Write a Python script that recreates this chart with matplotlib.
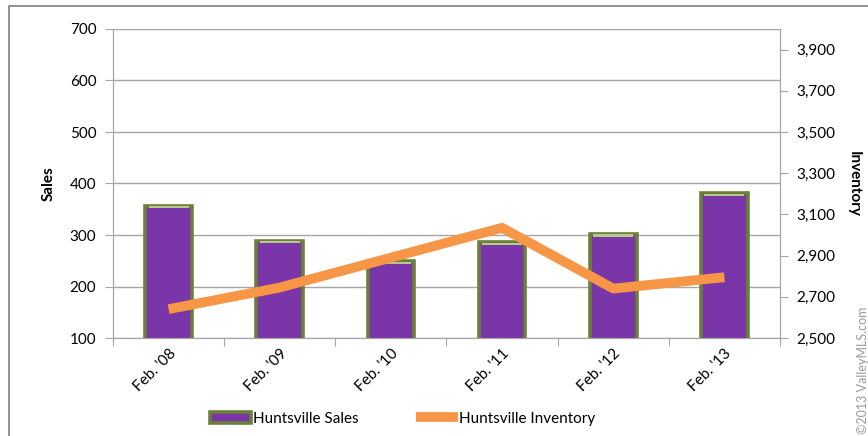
import numpy as np
import matplotlib
matplotlib.use('Agg')
import matplotlib.pyplot as plt
from matplotlib.patches import Rectangle

plt.rcParams['font.family'] = ['Lato', 'DejaVu Sans']

years = ["Feb. '08", "Feb. '09", "Feb. '10", "Feb. '11", "Feb. '12", "Feb. '13"]
sales = [357, 289, 249, 286, 302, 381]
inventory = [2640, 2745, 2890, 3035, 2740, 2795]

purple = '#7A35A8'
green = '#6B7F3A'
orange = '#F79646'
grid_c = '#A6A6A6'

fig = plt.figure(figsize=(8.68, 4.36), dpi=100)
ax = fig.add_axes([113 / 868, 1 - 338 / 436, 667 / 868, 309 / 436])
ax2 = ax.twinx()

x = np.arange(len(years))
ax.bar(x, sales, width=0.42, color=purple, edgecolor=green, linewidth=2.6, zorder=3,
       label='Huntsville Sales')
# light highlight along the top of each bar
ax.bar(x, [4] * len(x), bottom=np.array(sales) - 5, width=0.36, color='#B5C98A',
       linewidth=0, zorder=4)
ax2.plot(x, inventory, color=orange, linewidth=7, solid_capstyle='butt', zorder=5,
         label='Huntsville Inventory')

ax.set_xlim(-0.5, len(years) - 0.5)
ax.set_ylim(100, 700)
ax.set_yticks(range(100, 701, 100))
ax2.set_ylim(2500, 4000)
ax2.set_yticks(range(2500, 4000, 200))
ax2.set_yticklabels([f'{v:,}' for v in range(2500, 4000, 200)])

ax.set_xticks(np.arange(-0.5, len(years), 1), minor=False)
ax.set_xticklabels([])
ax.set_xticks(x, minor=True)
ax.set_xticklabels(years, minor=True, rotation=45, ha='right', rotation_mode='anchor',
                   fontsize=11)
ax.tick_params(axis='x', which='minor', length=0, pad=6)
ax.tick_params(axis='x', which='major', length=6, color=grid_c)

ax.yaxis.grid(True, color=grid_c, linewidth=1)
ax.set_axisbelow(True)
ax.tick_params(axis='y', length=6, color=grid_c, labelsize=11, pad=6)
ax2.tick_params(axis='y', length=6, color=grid_c, labelsize=11, pad=6)

for a in (ax, ax2):
    for s in a.spines.values():
        s.set_color(grid_c)
    a.spines['top'].set_visible(False)

ax.set_ylabel('Sales', fontsize=11, fontweight='bold', labelpad=10)
ax2.set_ylabel('Inventory', fontsize=11, fontweight='bold', rotation=270, labelpad=18)

# ax2 sits above ax; keep ax2 transparent
ax2.patch.set_visible(False)

h1, l1 = ax.get_legend_handles_labels()
h2, l2 = ax2.get_legend_handles_labels()
fig.legend(h1 + h2, l1 + l2, loc='center', ncol=2, frameon=False, fontsize=11,
           bbox_to_anchor=(0.464, 0.04), columnspacing=3.8, handlelength=2.7,
           handletextpad=0.1)

fig.add_artist(Rectangle((9 / 868, -0.1), 1.2, 1 - 6 / 436 + 0.1, transform=fig.transFigure,
                         fill=False, edgecolor='#7F7F7F', linewidth=1.2))

fig.text(857 / 868, 0.005, '\u00a92013 ValleyMLS.com', rotation=90, fontsize=9,
         color='#9A9A9A', ha='left', va='bottom')

fig.savefig('out.png', dpi=100)
